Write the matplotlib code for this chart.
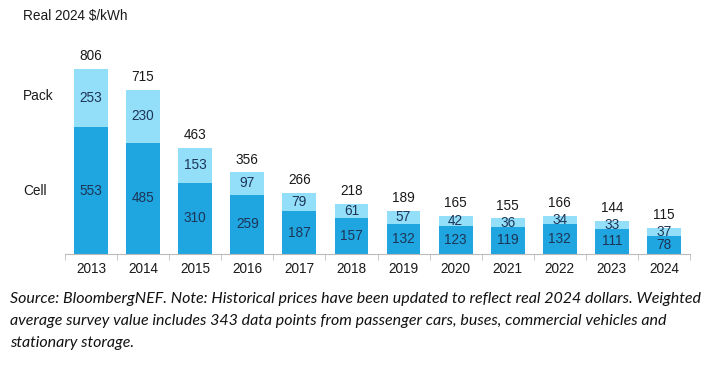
import numpy as np
import matplotlib
matplotlib.use('Agg')
from matplotlib import pyplot as plt

years = ['2013', '2014', '2015', '2016', '2017', '2018', '2019', '2020', '2021', '2022', '2023', '2024']
cell = [553, 485, 310, 259, 187, 157, 132, 123, 119, 132, 111, 78]
pack = [253, 230, 153, 97, 79, 61, 57, 42, 36, 34, 33, 37]
total = [806, 715, 463, 356, 266, 218, 189, 165, 155, 166, 144, 115]

plt.rcParams['font.family'] = ['Liberation Sans', 'DejaVu Sans']

fig = plt.figure(figsize=(7.12, 3.69), dpi=100)
ax = fig.add_axes([65/712, 1-254/369, 625/712, 206.6/369])

x = np.arange(len(years))
w = 0.65
ax.bar(x, cell, w, color='#1fa5df')
ax.bar(x, pack, w, bottom=cell, color='#93def8')

for i in range(len(years)):
    ax.text(x[i], cell[i]/2, str(cell[i]), ha='center', va='center', fontsize=9.8, color='#1d3557')
    ax.text(x[i], cell[i] + pack[i]/2, str(pack[i]), ha='center', va='center', fontsize=9.8, color='#1d3557')
    ax.text(x[i], total[i] + 55, str(total[i]), ha='center', va='center', fontsize=9.8, color='#1a1a1a')

ax.set_xlim(-0.5, 11.5)
ax.set_ylim(0, 900)
ax.set_xticks(x)
ax.set_xticklabels(years, fontsize=9.8, color='#1a1a1a')
ax.tick_params(axis='x', length=0, pad=6)
ax.set_xticks(np.arange(-0.5, 12, 1), minor=True)
ax.tick_params(axis='x', which='minor', length=4, color='#bbbbbb')
ax.set_yticks([])
for s in ['top', 'right', 'left']:
    ax.spines[s].set_visible(False)
ax.spines['bottom'].set_color('#bbbbbb')

fig.text(23/712, 1-16/369, 'Real 2024 $/kWh', fontsize=9.8, va='center', color='#1a1a1a')
fig.text(23/712, 1-96/369, 'Pack', fontsize=9.8, va='center', color='#1a1a1a')
fig.text(23/712, 1-191/369, 'Cell', fontsize=9.8, va='center', color='#1a1a1a')

note = ('Source: BloombergNEF. Note: Historical prices have been updated to reflect real 2024 dollars. Weighted\n'
        'average survey value includes 343 data points from passenger cars, buses, commercial vehicles and\n'
        'stationary storage.')
fig.text(10/712, 1-292/369, note, fontsize=11.55, style='italic', family=['Lato', 'DejaVu Sans'],
         va='top', linespacing=1.72, color='#111111')

fig.savefig('out.png', dpi=100)
